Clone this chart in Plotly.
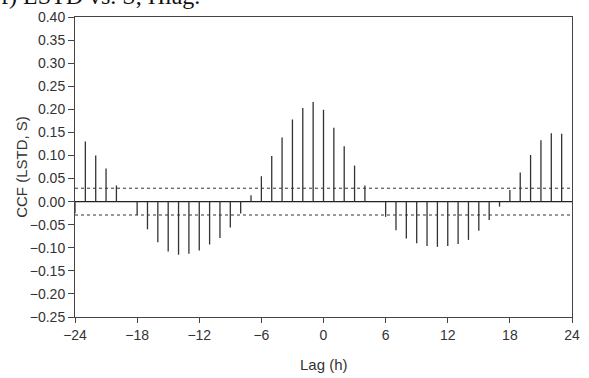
import plotly.graph_objects as go

lags = list(range(-24, 25))
ccf = [-0.025, 0.130, 0.100, 0.072, 0.035, 0.000, -0.029, -0.060, -0.088, -0.108,
       -0.115, -0.113, -0.106, -0.093, -0.079, -0.056, -0.026, 0.014, 0.055, 0.099,
       0.139, 0.178, 0.203, 0.216, 0.199, 0.160, 0.120, 0.078, 0.035, 0.000,
       -0.033, -0.062, -0.080, -0.090, -0.096, -0.098, -0.096, -0.092, -0.083, -0.063,
       -0.040, -0.011, 0.025, 0.063, 0.101, 0.133, 0.148, 0.147, 0.000]
conf = 0.029
yticks = [round(-0.25 + 0.05 * i, 2) for i in range(14)]
xticks = [-24, -18, -12, -6, 0, 6, 12, 18, 24]

xs, ys = [], []
for l, v in zip(lags, ccf):
    xs += [l, l, None]
    ys += [0, v, None]

fig = go.Figure()
fig.add_trace(go.Scatter(x=[-24, 24], y=[conf, conf], mode="lines",
                         line=dict(color="#333", width=1, dash="dot"), hoverinfo="skip"))
fig.add_trace(go.Scatter(x=[-24, 24], y=[-conf, -conf], mode="lines",
                         line=dict(color="#333", width=1, dash="dot"), hoverinfo="skip"))
fig.add_trace(go.Scatter(x=[-24, 24], y=[0, 0], mode="lines",
                         line=dict(color="#222", width=1.2), hoverinfo="skip"))
fig.add_trace(go.Scatter(x=xs, y=ys, mode="lines",
                         line=dict(color="#333", width=1.3)))

fig.update_layout(
    width=589, height=378,
    margin=dict(l=75, r=9, t=14, b=61),
    paper_bgcolor="white", plot_bgcolor="white",
    showlegend=False,
    font=dict(family="Liberation Sans, Arial", size=14, color="#333"),
)
fig.update_xaxes(range=[-24, 24], tickvals=xticks, ticks="outside", ticklen=5,
                 tickcolor="#444", showline=True, linecolor="#444", linewidth=1,
                 mirror=True, showgrid=False, zeroline=False,
                 tickfont=dict(size=14, color="#333"))
fig.update_yaxes(range=[-0.25, 0.40], tickvals=yticks,
                 ticktext=[f"{t:.2f}".replace("-", "\u2212") for t in yticks],
                 ticks="outside", ticklen=6, tickcolor="#444",
                 showline=True, linecolor="#444", linewidth=1, mirror=True,
                 showgrid=False, zeroline=False, tickfont=dict(size=14, color="#333"))

fig.add_annotation(text="Lag (h)", xref="paper", yref="paper", x=0.5, y=-0.122,
                   xanchor="center", yanchor="top", showarrow=False,
                   font=dict(size=15, color="#333"))
fig.add_annotation(text="CCF (LSTD, S)", xref="paper", yref="paper", x=-0.109,
                   y=0.5, xanchor="center", yanchor="middle", textangle=-90,
                   showarrow=False, font=dict(size=15, color="#333"))
fig.add_annotation(text="f) LSTD vs. S, Hlag.", xref="paper", yref="paper",
                   x=-0.152, y=1.02, xanchor="left", yanchor="bottom", showarrow=False,
                   font=dict(family="Liberation Serif", size=24, color="#111"))

fig.write_html("out.html")
